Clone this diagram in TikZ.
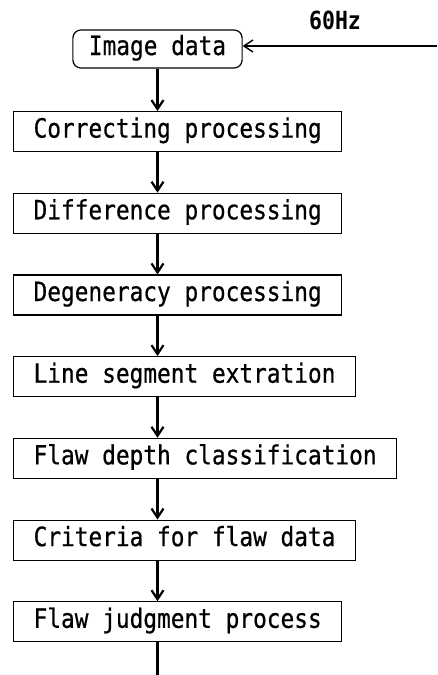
\documentclass[tikz,border=0pt]{standalone}
\usepackage{fontspec}
\newfontfamily\flowmono[FakeStretch=0.86,FakeBold=0.6]{DejaVu Sans Mono}
\newfontfamily\flowmonobold[FakeStretch=0.86]{DejaVu Sans Mono Bold}
\usetikzlibrary{positioning,calc,arrows.meta}
\tikzset{
  flowfont/.style={font=\flowmono\fontsize{26.5pt}{30pt}\selectfont},
  flowbox/.style={draw, line width=1.2pt, inner xsep=20pt, inner ysep=7pt,
    text height=19pt, text depth=7pt},
  procbox/.style={flowbox, minimum width=328pt, minimum height=40pt},
  startbox/.style={flowbox, rounded corners=8pt, inner xsep=16pt, inner ysep=6pt},
  flowarrow/.style={-{Straight Barb[length=9pt,width=12pt]}, line width=2.2pt},
  feedarrow/.style={flowarrow, line width=1.4pt},
}

\begin{document}
\begin{tikzpicture}[flowfont]
  \useasboundingbox (0,0) rectangle (437pt,-675pt);

  % Start node and input clock
  \node[startbox] (img) at (157.5pt,-49pt) {Image data};
  \node[font=\flowmonobold\fontsize{25pt}{28pt}\selectfont] (freq) at (335pt,-20pt) {60Hz};
  \coordinate (clock) at (437pt,-46pt);

  % Processing chain
  \node[procbox, anchor=north west] (corr) at (13pt,-111pt) {Correcting processing};
  \node[procbox, below=40.5pt of corr.south west, anchor=north west] (diff) {Difference processing};
  \node[procbox, below=40.5pt of diff.south west, anchor=north west] (degen) {Degeneracy processing};
  \node[procbox, below=40.5pt of degen.south west, anchor=north west] (lineseg) {Line segment extration};
  \node[flowbox, minimum height=40pt, below=40.5pt of lineseg.south west, anchor=north west] (depth) {Flaw depth classification};
  \node[procbox, below=40.5pt of depth.south west, anchor=north west] (crit) {Criteria for flaw data};
  \node[procbox, below=40.5pt of crit.south west, anchor=north west] (judg) {Flaw judgment process};
  \coordinate (sink) at ($(judg.south -| img.south)+(0,-40pt)$);

  % Arrows
  \draw[feedarrow] (clock) -- (clock -| img.east);
  \foreach \a/\b in {img/corr, corr/diff, diff/degen, degen/lineseg, lineseg/depth, depth/crit, crit/judg}
    \draw[flowarrow] (\a.south -| img.south) -- (\b.north -| img.south);
  \draw[line width=2.2pt] (judg.south -| img.south) -- (sink);
\end{tikzpicture}
\end{document}
